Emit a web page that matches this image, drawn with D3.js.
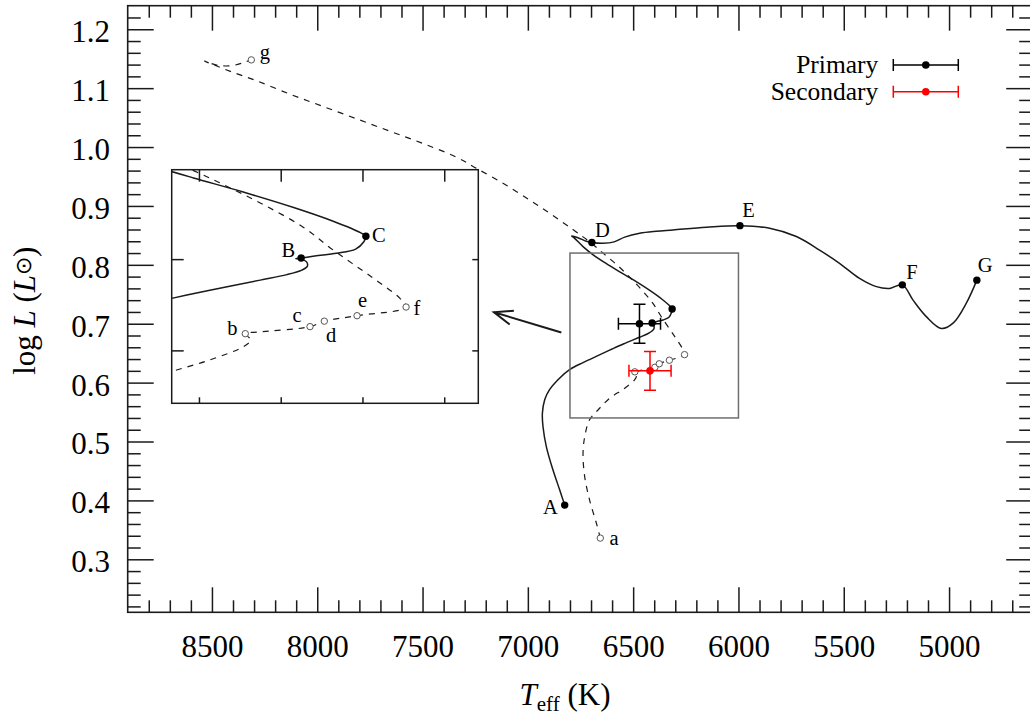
<!DOCTYPE html>
<html>
<head>
<meta charset="utf-8">
<script src="https://cdn.jsdelivr.net/npm/d3@7"></script>
<style>
  html, body { margin: 0; padding: 0; background: #fff; }
  svg { display: block; }
  text { font-family: "Liberation Serif", "Times New Roman", serif; fill: #000; }
</style>
</head>
<body>
<svg id="chart" width="1030" height="717"></svg>
<script>
// ---------------- data ----------------
// Evolutionary track of the primary (solid), A -> G
const primaryTrackT = [6825, 6849, 6881, 6912, 6928, 6931, 6920, 6897, 6857, 6802, 6738, 6660, 6600, 6544, 6470, 6431, 6409, 6401, 6402, 6410, 6418, 6410, 6390, 6358, 6330, 6318, 6315, 6323, 6363, 6421, 6495, 6568, 6627, 6690, 6738, 6778, 6792, 6762, 6722, 6696, 6644, 6590, 6540, 6469, 6390, 6311, 6152, 5993, 5852, 5725, 5615, 5520, 5425, 5345, 5282, 5222, 5171, 5108, 5037, 4981, 4918, 4868];
const primaryTrackL = [0.392, 0.418, 0.452, 0.491, 0.525, 0.548, 0.571, 0.588, 0.605, 0.622, 0.634, 0.647, 0.657, 0.666, 0.677, 0.683, 0.688, 0.692, 0.697, 0.700, 0.7005, 0.7012, 0.7035, 0.7064, 0.711, 0.719, 0.725, 0.729, 0.7415, 0.7565, 0.7735, 0.789, 0.802, 0.817, 0.831, 0.845, 0.849, 0.846, 0.840, 0.838, 0.8366, 0.839, 0.847, 0.8536, 0.857, 0.8592, 0.8638, 0.8665, 0.862, 0.848, 0.825, 0.8026, 0.777, 0.763, 0.760, 0.766, 0.740, 0.712, 0.692, 0.701, 0.735, 0.774];

// Evolutionary track of the secondary (dashed), a -> g
const secondaryTrackT = [6656, 6672, 6707, 6730, 6738, 6730, 6707, 6667, 6612, 6544, 6495, 6484, 6492, 6475, 6397, 6376, 6328, 6256, 6265, 6304, 6363, 6407, 6461, 6514, 6568, 6640, 6700, 6786, 6944, 7102, 7245, 7340, 7498, 7656, 7814, 7973, 8131, 8289, 8402, 8480, 8535, 8470, 8400, 8350, 8313];
const secondaryTrackL = [0.336, 0.358, 0.401, 0.440, 0.480, 0.508, 0.537, 0.5535, 0.5734, 0.5895, 0.604, 0.6114, 0.6183, 0.620, 0.626, 0.632, 0.638, 0.6475, 0.657, 0.679, 0.710, 0.735, 0.758, 0.778, 0.797, 0.819, 0.837, 0.860, 0.899, 0.935, 0.964, 0.983, 1.006, 1.027, 1.048, 1.069, 1.090, 1.1127, 1.127, 1.138, 1.146, 1.1385, 1.1385, 1.1435, 1.148];

// Marked evolutionary stages
const primaryStageNames = ["A", "B", "C", "D", "E", "F", "G"];
const primaryStageT = [6825, 6410, 6315, 6696, 5993, 5222, 4868];
const primaryStageL = [0.392, 0.7012, 0.725, 0.838, 0.8665, 0.766, 0.774];

const secondaryStageNames = ["a", "b", "c", "d", "e", "f", "g"];
const secondaryStageT = [6656, 6492, 6397, 6376, 6328, 6256, 8313];
const secondaryStageL = [0.336, 0.6183, 0.626, 0.632, 0.638, 0.6475, 1.148];

// Observed positions with uncertainties
const starNames = ["Primary", "Secondary"];
const starT = [6470, 6420];
const starTerr = [100, 100];
const starL = [0.700, 0.620];
const starLerr = [0.033, 0.033];
const starColors = ["#000000", "#ff0000"];

// Axis ticks
const xTickValues = [8500, 8000, 7500, 7000, 6500, 6000, 5500, 5000];
const yTickValues = [0.3, 0.4, 0.5, 0.6, 0.7, 0.8, 0.9, 1.0, 1.1, 1.2];
const insetXTicks = [6560, 6440, 6320, 6200];
const insetYTicks = [0.6, 0.7];

// Zoomed region and the arrow pointing to its enlargement
const zoomBoxT = [6800, 6000];
const zoomBoxL = [0.54, 0.82];
const arrowTail = [6841, 0.685];
const arrowHead = [7161, 0.7195];

// ---------------- layout ----------------
const frame = { left: 127.7, right: 1031.2, top: 5.7, bottom: 612.3 };
const insetFrame = { left: 171.7, right: 478.3, top: 169.7, bottom: 403.3 };
const serif = '"Liberation Serif", "Times New Roman", serif';
const ink = "#1a1a1a";

const svg = d3.select("#chart");

const x = d3.scaleLinear().domain([8900, 4610]).range([frame.left, frame.right]);
const y = d3.scaleLinear().domain([0.21, 1.24]).range([frame.bottom, frame.top]);
const ix = d3.scaleLinear().domain([6600, 6150]).range([insetFrame.left, insetFrame.right]);
const iy = d3.scaleLinear().domain([0.542, 0.798]).range([insetFrame.bottom, insetFrame.top]);

const zip = (T, L) => T.map((t, i) => ({ T: t, L: L[i] }));
const primaryTrack = zip(primaryTrackT, primaryTrackL);
const secondaryTrack = zip(secondaryTrackT, secondaryTrackL);
const primaryStages = primaryStageNames.map((n, i) => ({ name: n, T: primaryStageT[i], L: primaryStageL[i] }));
const secondaryStages = secondaryStageNames.map((n, i) => ({ name: n, T: secondaryStageT[i], L: secondaryStageL[i] }));
const stars = starNames.map((n, i) => ({ name: n, T: starT[i], dT: starTerr[i], L: starL[i], dL: starLerr[i], color: starColors[i] }));

const defs = svg.append("defs");
defs.append("clipPath").attr("id", "clipMain").append("rect")
  .attr("x", frame.left).attr("y", frame.top)
  .attr("width", frame.right - frame.left).attr("height", frame.bottom - frame.top);
defs.append("clipPath").attr("id", "clipInset").append("rect")
  .attr("x", insetFrame.left).attr("y", insetFrame.top)
  .attr("width", insetFrame.right - insetFrame.left).attr("height", insetFrame.bottom - insetFrame.top);

// ---------------- axes ----------------
function styleAxis(g) {
  g.select(".domain").remove();
  g.attr("font-family", serif).attr("font-size", 31);
  g.selectAll(".tick line").attr("stroke", ink).attr("stroke-width", 1.5);
  return g;
}
const xMinor = d3.range(4700, 8900, 100).filter(v => v % 500 !== 0);
const yMinor = d3.range(11, 62).map(i => +(i * 0.02).toFixed(2)).filter(v => Math.abs(v * 10 - Math.round(v * 10)) > 1e-6);

// bottom
styleAxis(svg.append("g").attr("transform", `translate(0,${frame.bottom})`)
  .call(d3.axisBottom(x).tickValues(xTickValues).tickSize(-25).tickFormat(d3.format("d"))))
  .selectAll("text").attr("y", 44.4).attr("dy", null);
styleAxis(svg.append("g").attr("transform", `translate(0,${frame.bottom})`)
  .call(d3.axisBottom(x).tickValues(xMinor).tickSize(-12).tickFormat("")));
// top
styleAxis(svg.append("g").attr("transform", `translate(0,${frame.top})`)
  .call(d3.axisTop(x).tickValues(xTickValues).tickSize(-25).tickFormat("")));
styleAxis(svg.append("g").attr("transform", `translate(0,${frame.top})`)
  .call(d3.axisTop(x).tickValues(xMinor).tickSize(-12).tickFormat("")));
// left
styleAxis(svg.append("g").attr("transform", `translate(${frame.left},0)`)
  .call(d3.axisLeft(y).tickValues(yTickValues).tickSize(-26).tickFormat(d3.format(".1f"))))
  .selectAll("text").attr("x", -17.7).attr("dy", null).attr("y", 12.4);
styleAxis(svg.append("g").attr("transform", `translate(${frame.left},0)`)
  .call(d3.axisLeft(y).tickValues(yMinor).tickSize(-13).tickFormat("")));
// right
styleAxis(svg.append("g").attr("transform", `translate(${frame.right},0)`)
  .call(d3.axisRight(y).tickValues(yTickValues).tickSize(-25).tickFormat("")));
styleAxis(svg.append("g").attr("transform", `translate(${frame.right},0)`)
  .call(d3.axisRight(y).tickValues(yMinor).tickSize(-12).tickFormat("")));

svg.append("rect")
  .attr("x", frame.left).attr("y", frame.top)
  .attr("width", frame.right - frame.left).attr("height", frame.bottom - frame.top)
  .attr("fill", "none").attr("stroke", ink).attr("stroke-width", 1.6);

// axis titles
const xt = svg.append("text").attr("x", 565).attr("y", 705)
  .attr("text-anchor", "middle").attr("font-size", 31);
xt.append("tspan").attr("font-style", "italic").text("T");
xt.append("tspan").attr("font-size", 21).attr("dy", 6).text("eff");
xt.append("tspan").attr("dy", -6).text(" (K)");

const yt = svg.append("text").attr("transform", "translate(35,310.7) rotate(-90)")
  .attr("text-anchor", "middle").attr("font-size", 31);
yt.append("tspan").text("log ");
yt.append("tspan").attr("font-style", "italic").text("L");
yt.append("tspan").text(" (");
yt.append("tspan").attr("font-style", "italic").text("L");
yt.append("tspan").attr("font-size", 22).attr("dy", -4).text("\u2299");
yt.append("tspan").attr("dy", 4).text(")");

// ---------------- tracks ----------------
function trackLine(sx, sy) {
  return d3.line().x(d => sx(d.T)).y(d => sy(d.L)).curve(d3.curveCatmullRom.alpha(0.5));
}
const main = svg.append("g").attr("clip-path", "url(#clipMain)");
main.append("path").datum(secondaryTrack).attr("d", trackLine(x, y))
  .attr("fill", "none").attr("stroke", ink).attr("stroke-width", 1.2).attr("stroke-dasharray", "6,6");
main.append("path").datum(primaryTrack).attr("d", trackLine(x, y))
  .attr("fill", "none").attr("stroke", ink).attr("stroke-width", 1.5);

// zoomed region outline
svg.append("rect")
  .attr("x", x(zoomBoxT[0])).attr("y", y(zoomBoxL[1]))
  .attr("width", x(zoomBoxT[1]) - x(zoomBoxT[0])).attr("height", y(zoomBoxL[0]) - y(zoomBoxL[1]))
  .attr("fill", "none").attr("stroke", "#6e6e6e").attr("stroke-width", 1.5);

// arrow pointing to the enlargement
{
  const x0 = x(arrowTail[0]), y0 = y(arrowTail[1]);
  const x1 = x(arrowHead[0]), y1 = y(arrowHead[1]);
  const ang = Math.atan2(y0 - y1, x0 - x1);
  const headLen = 20, spread = 0.37;
  const barb = s => [x1 + headLen * Math.cos(ang + s), y1 + headLen * Math.sin(ang + s)];
  const b1 = barb(spread), b2 = barb(-spread);
  svg.append("path")
    .attr("d", `M${x0},${y0}L${x1},${y1}M${b1[0]},${b1[1]}L${x1},${y1}L${b2[0]},${b2[1]}`)
    .attr("fill", "none").attr("stroke", ink).attr("stroke-width", 2);
}

// stage markers in the main panel
svg.append("g").selectAll("circle").data(secondaryStages).join("circle")
  .attr("cx", d => x(d.T)).attr("cy", d => y(d.L)).attr("r", 3.2)
  .attr("fill", "#fff").attr("stroke", "#555").attr("stroke-width", 1);
svg.append("g").selectAll("circle").data(primaryStages).join("circle")
  .attr("cx", d => x(d.T)).attr("cy", d => y(d.L)).attr("r", 3.7).attr("fill", "#000");

const mainLabelOffsets = {
  A: [-7, 8.7, "end"], D: [3, -5.6, "start"], E: [2.4, -9, "start"],
  F: [4, -5.7, "start"], G: [1, -8.3, "start"], a: [9.3, 7, "start"], g: [8.3, -1, "start"]
};
svg.append("g").selectAll("text")
  .data(primaryStages.concat(secondaryStages).filter(d => mainLabelOffsets[d.name]))
  .join("text")
  .attr("x", d => x(d.T) + mainLabelOffsets[d.name][0])
  .attr("y", d => y(d.L) + mainLabelOffsets[d.name][1])
  .attr("text-anchor", d => mainLabelOffsets[d.name][2])
  .attr("font-size", 20.5).text(d => d.name);

// observed stars with error bars
const cap = 6;
const obs = svg.append("g").selectAll("g").data(stars).join("g")
  .attr("stroke", d => d.color).attr("stroke-width", 1.5);
obs.append("path").attr("fill", "none").attr("d", d => {
  const xl = x(d.T + d.dT), xr = x(d.T - d.dT), yc = y(d.L);
  const yt0 = y(d.L + d.dL), yb = y(d.L - d.dL), xc = x(d.T);
  return `M${xl},${yc}H${xr}M${xl},${yc - cap}V${yc + cap}M${xr},${yc - cap}V${yc + cap}` +
         `M${xc},${yt0}V${yb}M${xc - cap},${yt0}H${xc + cap}M${xc - cap},${yb}H${xc + cap}`;
});
obs.append("circle").attr("cx", d => x(d.T)).attr("cy", d => y(d.L)).attr("r", 3.8)
  .attr("fill", d => d.color).attr("stroke", "none");

// legend
const legendY = [65, 91.7];
const lg = svg.append("g").selectAll("g").data(stars).join("g")
  .attr("transform", (d, i) => `translate(0,${legendY[i]})`);
lg.append("text").attr("x", 878.3).attr("y", 8.3).attr("text-anchor", "end")
  .attr("font-size", 25.5).text(d => d.name);
lg.append("path").attr("fill", "none").attr("stroke", d => d.color).attr("stroke-width", 1.5)
  .attr("d", `M893.3,0H958.3M893.3,${-cap}V${cap}M958.3,${-cap}V${cap}`);
lg.append("circle").attr("cx", 925.8).attr("cy", 0).attr("r", 3.8).attr("fill", d => d.color);

// ---------------- inset enlargement ----------------
svg.append("rect")
  .attr("x", insetFrame.left).attr("y", insetFrame.top)
  .attr("width", insetFrame.right - insetFrame.left).attr("height", insetFrame.bottom - insetFrame.top)
  .attr("fill", "#fff");

const inset = svg.append("g").attr("clip-path", "url(#clipInset)");
inset.append("path").datum(secondaryTrack).attr("d", trackLine(ix, iy))
  .attr("fill", "none").attr("stroke", ink).attr("stroke-width", 1.2).attr("stroke-dasharray", "6,6");
inset.append("path").datum(primaryTrack).attr("d", trackLine(ix, iy))
  .attr("fill", "none").attr("stroke", ink).attr("stroke-width", 1.5);

const inDomain = d => d.T <= 6600 && d.T >= 6150 && d.L >= 0.542 && d.L <= 0.798;
inset.append("g").selectAll("circle").data(secondaryStages.filter(inDomain)).join("circle")
  .attr("cx", d => ix(d.T)).attr("cy", d => iy(d.L)).attr("r", 3.2)
  .attr("fill", "#fff").attr("stroke", "#555").attr("stroke-width", 1);
inset.append("g").selectAll("circle").data(primaryStages.filter(inDomain)).join("circle")
  .attr("cx", d => ix(d.T)).attr("cy", d => iy(d.L)).attr("r", 3.7).attr("fill", "#000");

const insetLabelOffsets = {
  B: [-6, -1.3, "end"], C: [6, 5.4, "start"], b: [-7.7, 1.3, "end"], c: [-8.3, -4.7, "end"],
  d: [1.7, 20.7, "start"], e: [1, -8.6, "start"], f: [7.3, 8, "start"]
};
svg.append("g").selectAll("text")
  .data(primaryStages.concat(secondaryStages).filter(d => insetLabelOffsets[d.name]))
  .join("text")
  .attr("x", d => ix(d.T) + insetLabelOffsets[d.name][0])
  .attr("y", d => iy(d.L) + insetLabelOffsets[d.name][1])
  .attr("text-anchor", d => insetLabelOffsets[d.name][2])
  .attr("font-size", 20.5).text(d => d.name);

// inset ticks: long on top/left, short on bottom/right
function styleInsetAxis(g) {
  g.select(".domain").remove();
  g.selectAll(".tick line").attr("stroke", ink).attr("stroke-width", 1.5);
  return g;
}
styleInsetAxis(svg.append("g").attr("transform", `translate(0,${insetFrame.top})`)
  .call(d3.axisTop(ix).tickValues(insetXTicks).tickSize(-12).tickFormat("")));
styleInsetAxis(svg.append("g").attr("transform", `translate(0,${insetFrame.bottom})`)
  .call(d3.axisBottom(ix).tickValues(insetXTicks).tickSize(-6).tickFormat("")));
styleInsetAxis(svg.append("g").attr("transform", `translate(${insetFrame.left},0)`)
  .call(d3.axisLeft(iy).tickValues(insetYTicks).tickSize(-12).tickFormat("")));
styleInsetAxis(svg.append("g").attr("transform", `translate(${insetFrame.right},0)`)
  .call(d3.axisRight(iy).tickValues(insetYTicks).tickSize(-6).tickFormat("")));

svg.append("rect")
  .attr("x", insetFrame.left).attr("y", insetFrame.top)
  .attr("width", insetFrame.right - insetFrame.left).attr("height", insetFrame.bottom - insetFrame.top)
  .attr("fill", "none").attr("stroke", ink).attr("stroke-width", 1.5);
</script>
</body>
</html>
